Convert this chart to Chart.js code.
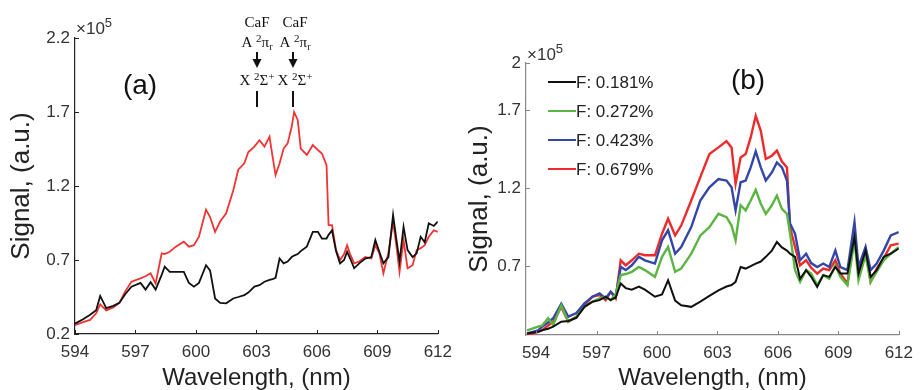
<!DOCTYPE html>
<html>
<head>
<meta charset="utf-8">
<script src="https://cdn.jsdelivr.net/npm/chart.js@4.4.1/dist/chart.umd.min.js"></script>
<style>
  html, body { margin: 0; padding: 0; background: #fff; }
  #wrap { position: relative; width: 921px; height: 390px; }
  #chartA { position: absolute; left: 0; top: 0; }
  #chartB { position: absolute; left: 460px; top: 0; }
</style>
</head>
<body>
<div id="wrap">
  <canvas id="chartA" width="460" height="390"></canvas>
  <canvas id="chartB" width="461" height="390"></canvas>
</div>
<script>
// panel (a): wavelength (nm) and signal (x1e5 a.u.)
const waveA = [594.0, 594.4, 594.75, 595.05, 595.25, 595.55, 595.9, 596.2, 596.5, 596.8,
  597.25, 597.5, 597.75, 598.0, 598.3, 598.45, 598.7, 599.0, 599.4, 599.65,
  599.9, 600.15, 600.5, 600.7, 600.95, 601.2, 601.5, 601.85, 602.1, 602.4,
  602.6, 602.9, 603.15, 603.4, 603.65, 603.8, 603.95, 604.15, 604.35, 604.55,
  604.75, 604.87, 605.05, 605.2, 605.5, 605.8, 606.05, 606.25, 606.48, 606.58,
  606.75, 606.95, 607.15, 607.35, 607.5, 607.65, 607.85, 608.1, 608.4, 608.7,
  608.9, 609.1, 609.3, 609.55, 609.78, 609.95, 610.1, 610.3, 610.5, 610.75,
  610.95, 611.15, 611.35, 611.55, 611.8, 612.0];
const blackA = [0.27, 0.30, 0.33, 0.36, 0.457, 0.375, 0.39, 0.41, 0.47, 0.52,
  0.545, 0.50, 0.55, 0.50, 0.60, 0.655, 0.62, 0.62, 0.62, 0.545,
  0.52, 0.545, 0.665, 0.63, 0.44, 0.41, 0.407, 0.44, 0.45, 0.463,
  0.48, 0.52, 0.53, 0.553, 0.565, 0.57, 0.58, 0.71, 0.677, 0.69,
  0.72, 0.73, 0.74, 0.76, 0.79, 0.89, 0.89, 0.845, 0.845, 0.87,
  0.90, 0.76, 0.677, 0.70, 0.756, 0.71, 0.644, 0.677, 0.71, 0.72,
  0.835, 0.756, 0.677, 0.72, 1.005, 0.835, 0.69, 0.925, 0.767, 0.72,
  0.745, 0.857, 0.82, 0.948, 0.93, 0.96];
const redA = [0.26, 0.28, 0.295, 0.34, 0.40, 0.36, 0.38, 0.41, 0.49, 0.553,
  0.576, 0.59, 0.61, 0.542, 0.745, 0.74, 0.756, 0.79, 0.824, 0.79,
  0.80, 0.857, 1.04, 0.99, 0.89, 0.96, 1.015, 1.17, 1.31, 1.353,
  1.43, 1.466, 1.51, 1.466, 1.533, 1.40, 1.274, 1.353, 1.453, 1.488,
  1.60, 1.70, 1.646, 1.453, 1.41, 1.477, 1.443, 1.42, 1.34, 0.936,
  0.936, 0.767, 0.70, 0.74, 0.80, 0.74, 0.677, 0.69, 0.72, 0.71,
  0.80, 0.745, 0.61, 0.75, 0.96, 0.79, 0.62, 0.835, 0.644, 0.665,
  0.767, 0.78, 0.80, 0.857, 0.90, 0.89];

// panel (b)
const waveB = [593.55, 594.1, 594.3, 594.6, 594.85, 595.25, 595.6, 596.0, 596.4, 596.8,
  597.15, 597.45, 597.7, 597.95, 598.2, 598.45, 598.75, 599.1, 599.4, 599.9,
  600.25, 600.55, 600.9, 601.2, 601.7, 602.15, 602.6, 603.05, 603.45, 603.7,
  603.9, 604.15, 604.4, 604.65, 604.9, 605.15, 605.4, 605.7, 605.95, 606.2,
  606.45, 606.6, 606.85, 607.1, 607.4, 607.65, 607.95, 608.25, 608.55, 608.85,
  609.1, 609.45, 609.8, 610.0, 610.35, 610.6, 610.9, 611.25, 611.6, 612.0];
const f181 = [0.27, 0.28, 0.29, 0.30, 0.313, 0.345, 0.35, 0.37, 0.44, 0.473,
  0.483, 0.505, 0.483, 0.50, 0.59, 0.56, 0.55, 0.57, 0.55, 0.505,
  0.52, 0.61, 0.48, 0.45, 0.44, 0.473, 0.51, 0.545, 0.57, 0.58,
  0.60, 0.695, 0.685, 0.70, 0.717, 0.73, 0.76, 0.80, 0.855, 0.82,
  0.80, 0.78, 0.76, 0.62, 0.675, 0.632, 0.568, 0.643, 0.632, 0.695,
  0.653, 0.653, 0.887, 0.653, 0.80, 0.632, 0.675, 0.76, 0.78, 0.813];
const f272 = [0.29, 0.313, 0.32, 0.367, 0.324, 0.45, 0.345, 0.377, 0.44, 0.473,
  0.494, 0.505, 0.483, 0.52, 0.643, 0.65, 0.664, 0.695, 0.675, 0.632,
  0.76, 0.823, 0.664, 0.685, 0.78, 0.897, 0.95, 1.035, 1.014, 0.96,
  0.866, 1.09, 1.057, 1.12, 1.188, 1.10, 1.035, 1.09, 1.152, 1.067,
  1.035, 0.91, 0.675, 0.60, 0.675, 0.653, 0.579, 0.643, 0.62, 0.706,
  0.632, 0.579, 0.866, 0.61, 0.77, 0.60, 0.664, 0.738, 0.78, 0.823];
const f423 = [0.27, 0.29, 0.313, 0.34, 0.367, 0.46, 0.377, 0.40, 0.462, 0.505,
  0.526, 0.494, 0.536, 0.505, 0.695, 0.675, 0.706, 0.76, 0.738, 0.717,
  0.866, 0.93, 0.78, 0.823, 0.95, 1.12, 1.205, 1.258, 1.248, 1.205,
  1.057, 1.237, 1.248, 1.332, 1.434, 1.332, 1.248, 1.30, 1.364, 1.332,
  1.248, 0.973, 0.908, 0.738, 0.78, 0.72, 0.695, 0.717, 0.695, 0.80,
  0.695, 0.675, 0.982, 0.695, 0.823, 0.675, 0.717, 0.80, 0.897, 0.918];
const f679 = [0.26, 0.28, 0.29, 0.32, 0.345, 0.44, 0.345, 0.377, 0.45, 0.505,
  0.515, 0.483, 0.536, 0.494, 0.738, 0.706, 0.738, 0.78, 0.77, 0.77,
  0.908, 1.004, 0.897, 0.96, 1.12, 1.27, 1.418, 1.46, 1.50, 1.46,
  1.227, 1.396, 1.418, 1.524, 1.662, 1.566, 1.386, 1.407, 1.44, 1.37,
  1.332, 0.95, 0.823, 0.706, 0.738, 0.69, 0.653, 0.685, 0.675, 0.738,
  0.653, 0.59, 0.887, 0.653, 0.80, 0.60, 0.685, 0.75, 0.834, 0.845];
const legendB = ["F: 0.181%", "F: 0.272%", "F: 0.423%", "F: 0.679%"];
const coloursB = ["#111111", "#5bb543", "#3446a8", "#ee2a2a"];

const xTicks = [594, 597, 600, 603, 606, 609, 612];
const yTicksA = [0.2, 0.7, 1.2, 1.7, 2.2];
const yTicksB = [0.7, 1.2, 1.7, 2];
const bandsA = [603.02, 604.84]; // CaF A-X band heads marked in (a)

const SANS = "'Liberation Sans', Arial, sans-serif";
const SERIF = "'Liberation Serif', 'Times New Roman', serif";

function pts(xs, ys) {
  return xs.map((x, i) => ({ x: x, y: ys[i] }));
}

// MATLAB style ticks pointing into the plot
const inTicks = {
  id: "inTicks",
  afterDatasetsDraw(chart, args, opts) {
    const { ctx, chartArea: a, scales } = chart;
    ctx.save();
    ctx.strokeStyle = opts.color;
    ctx.lineWidth = 1;
    scales.x.ticks.forEach((t) => {
      const px = Math.round(scales.x.getPixelForValue(t.value)) + 0.5;
      ctx.beginPath();
      ctx.moveTo(px, a.bottom);
      ctx.lineTo(px, a.bottom - 4);
      ctx.stroke();
    });
    scales.y.ticks.forEach((t) => {
      const py = Math.round(scales.y.getPixelForValue(t.value)) + 0.5;
      ctx.beginPath();
      ctx.moveTo(a.left, py);
      ctx.lineTo(a.left + 4, py);
      ctx.stroke();
    });
    ctx.restore();
  },
};

function exponent(ctx, a, dy) {
  ctx.fillStyle = "#333";
  ctx.textAlign = "left";
  ctx.textBaseline = "alphabetic";
  ctx.font = "17px " + SANS;
  ctx.fillText("\u00d710", a.left + 1, a.top - dy);
  const w = ctx.measureText("\u00d710").width;
  ctx.font = "13px " + SANS;
  ctx.fillText("5", a.left + 1 + w, a.top - dy - 7);
}

function richText(ctx, parts, cx, y) {
  let w = 0;
  parts.forEach((p) => {
    ctx.font = p[1] + "px " + SERIF;
    w += ctx.measureText(p[0]).width;
  });
  let x = cx - w / 2;
  parts.forEach((p) => {
    ctx.font = p[1] + "px " + SERIF;
    ctx.fillText(p[0], x, y + (p[2] || 0));
    x += ctx.measureText(p[0]).width;
  });
}

const decorA = {
  id: "decorA",
  afterDraw(chart) {
    const { ctx, chartArea: a, scales } = chart;
    ctx.save();
    exponent(ctx, a, 4);
    ctx.fillStyle = "#111";
    ctx.font = "28px " + SANS;
    ctx.textAlign = "center";
    ctx.textBaseline = "middle";
    ctx.fillText("(a)", 140, 86);

    ctx.textAlign = "left";
    ctx.textBaseline = "alphabetic";
    bandsA.forEach((wl, i) => {
      const bx = Math.round(scales.x.getPixelForValue(wl));
      const cx = bx + i * 2;
      richText(ctx, [["CaF", 15]], cx, 27);
      richText(ctx, [["A", 15], [" ", 15], ["2", 11, -5], ["\u03c0", 15], ["r", 10, 3]], cx, 47);
      ctx.fillRect(bx - 1, 52, 2, 9);
      ctx.beginPath();
      ctx.moveTo(bx - 4.5, 59);
      ctx.lineTo(bx + 4.5, 59);
      ctx.lineTo(bx, 68);
      ctx.closePath();
      ctx.fill();
      richText(ctx, [["X", 15], [" ", 15], ["2", 11, -5], ["\u03a3", 15], ["+", 11, -5]], cx, 85);
      ctx.fillRect(bx - 1, 91, 2, 16);
    });
    ctx.restore();
  },
};

const decorB = {
  id: "decorB",
  afterDraw(chart) {
    const { ctx, chartArea: a } = chart;
    ctx.save();
    exponent(ctx, a, 3);
    ctx.fillStyle = "#111";
    ctx.font = "28px " + SANS;
    ctx.textAlign = "center";
    ctx.textBaseline = "middle";
    ctx.fillText("(b)", 288, 81);

    ctx.textAlign = "left";
    ctx.font = "17px " + SANS;
    legendB.forEach((lab, i) => {
      const y = 82 + i * 29;
      ctx.strokeStyle = coloursB[i];
      ctx.lineWidth = 2;
      ctx.beginPath();
      ctx.moveTo(88, y);
      ctx.lineTo(116, y);
      ctx.stroke();
      ctx.fillStyle = "#222";
      ctx.fillText(lab, 116, y + 1);
    });
    ctx.restore();
  },
};

function scales(opt) {
  return {
    x: {
      type: "linear",
      min: opt.xmin,
      max: 612,
      afterBuildTicks: (s) => { s.ticks = xTicks.map((v) => ({ value: v })); },
      afterFit: (s) => { s.height = opt.xh; },
      grid: { display: false, drawTicks: false },
      border: { display: true, color: opt.axis, width: 1.2 },
      ticks: {
        color: "#333",
        font: { size: 17, family: SANS },
        padding: 8,
        maxRotation: 0,
        autoSkip: false,
        callback: (v) => String(v),
      },
      title: {
        display: true,
        text: "Wavelength, (nm)",
        color: "#222",
        font: { size: 24, family: SANS, lineHeight: 1 },
        padding: 0,
      },
    },
    y: {
      min: opt.ymin,
      max: opt.ymax,
      afterBuildTicks: (s) => { s.ticks = opt.yticks.map((v) => ({ value: v })); },
      afterFit: (s) => { s.width = opt.yw; },
      grid: { display: false, drawTicks: false },
      border: { display: true, color: opt.axis, width: 1.2 },
      ticks: {
        color: "#333",
        font: { size: 17, family: SANS },
        padding: 5,
        callback: (v) => String(v),
      },
      title: {
        display: true,
        text: "Signal, (a.u.)",
        color: "#222",
        font: { size: 26, family: SANS, lineHeight: 1.2 },
        padding: { top: opt.ytp, bottom: 0 },
      },
    },
  };
}

function line(label, xs, ys, colour, width) {
  return {
    label: label,
    data: pts(xs, ys),
    borderColor: colour,
    borderWidth: width,
    pointRadius: 0,
    tension: 0,
    fill: false,
  };
}

new Chart(document.getElementById("chartA").getContext("2d"), {
  type: "line",
  data: {
    datasets: [
      line("black", waveA, blackA, "#111111", 1.8),
      line("red", waveA, redA, "#f03434", 1.8),
    ],
  },
  options: {
    responsive: false,
    animation: false,
    devicePixelRatio: 1,
    layout: { padding: { left: 0, right: 18, top: 38, bottom: 0 } },
    scales: scales({ xmin: 594, ymin: 0.2, ymax: 2.2, yticks: yTicksA, xh: 56, yw: 75, ytp: 6, axis: "#222" }),
    plugins: { legend: { display: false }, tooltip: { enabled: false }, inTicks: { color: "#222" } },
  },
  plugins: [inTicks, decorA],
});

new Chart(document.getElementById("chartB").getContext("2d"), {
  type: "line",
  data: {
    datasets: [
      line(legendB[0], waveB, f181, coloursB[0], 2),
      line(legendB[1], waveB, f272, coloursB[1], 2.4),
      line(legendB[2], waveB, f423, coloursB[2], 2.4),
      line(legendB[3], waveB, f679, coloursB[3], 2.4),
    ],
  },
  options: {
    responsive: false,
    animation: false,
    devicePixelRatio: 1,
    layout: { padding: { left: 0, right: 17, top: 63, bottom: 0 } },
    scales: scales({ xmin: 593.5, ymin: 0.26, ymax: 2, yticks: yTicksB, xh: 55, yw: 66, ytp: 4, axis: "#888" }),
    plugins: { legend: { display: false }, tooltip: { enabled: false }, inTicks: { color: "#888" } },
  },
  plugins: [inTicks, decorB],
});
</script>
</body>
</html>
